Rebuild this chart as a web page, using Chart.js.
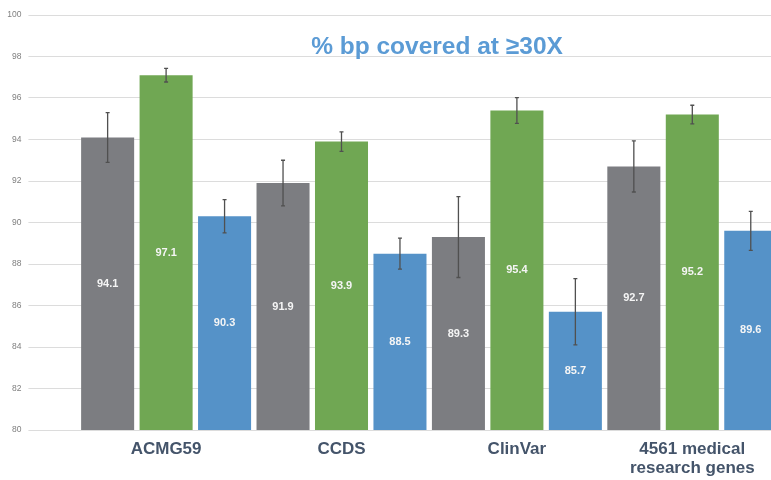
<!DOCTYPE html>
<html>
<head>
<meta charset="utf-8">
<script src="https://cdn.jsdelivr.net/npm/chart.js@4.4.1/dist/chart.umd.min.js"></script>
<style>
  html, body { margin: 0; padding: 0; background: #fff; overflow: hidden; }
  #wrap { width: 780px; height: 480px; }
</style>
</head>
<body>
<div id="wrap"><canvas id="chart" width="780" height="480"></canvas></div>
<script>
// categories along the x axis
const categories = ["ACMG59", "CCDS", "ClinVar", ["4561 medical", "research genes"]];

// bar values (% bp covered at >=30X)
const grayValues  = [94.1, 91.9, 89.3, 92.7];
const greenValues = [97.1, 93.9, 95.4, 95.2];
const blueValues  = [90.3, 88.5, 85.7, 89.6];

// error bar half-widths
const grayErrors  = [1.2, 1.1, 1.95, 1.23];
const greenErrors = [0.33, 0.47, 0.62, 0.45];
const blueErrors  = [0.8, 0.75, 1.6, 0.94];

const yTicks = [80, 82, 84, 86, 88, 90, 92, 94, 96, 98, 100];

const titleText = "% bp covered at \u226530X";

// error bars, value labels and the title
const overlay = {
  id: "overlay",
  afterDraw(chart) {
    const ctx = chart.ctx;
    const y = chart.scales.y;
    chart.data.datasets.forEach((ds, i) => {
      const meta = chart.getDatasetMeta(i);
      meta.data.forEach((bar, j) => {
        const v = ds.data[j];
        const e = ds.errors[j];
        const mid = (y.getPixelForValue(v) + y.bottom) / 2;

        ctx.save();
        ctx.fillStyle = "#f5f5f5";
        ctx.font = "bold 11px 'Liberation Sans', Arial, sans-serif";
        ctx.textAlign = "center";
        ctx.textBaseline = "middle";
        ctx.fillText(v.toFixed(1), bar.x, mid);

        const top = y.getPixelForValue(v + e);
        const bot = y.getPixelForValue(v - e);
        ctx.strokeStyle = "#505050";
        ctx.lineWidth = 1.3;
        ctx.beginPath();
        ctx.moveTo(bar.x, top); ctx.lineTo(bar.x, bot);
        ctx.moveTo(bar.x - 2, top); ctx.lineTo(bar.x + 2, top);
        ctx.moveTo(bar.x - 2, bot); ctx.lineTo(bar.x + 2, bot);
        ctx.stroke();
        ctx.restore();
      });
    });

    ctx.save();
    ctx.fillStyle = "#5b9bd5";
    ctx.font = "bold 24.5px 'Liberation Sans', Arial, sans-serif";
    ctx.textAlign = "center";
    ctx.textBaseline = "alphabetic";
    ctx.fillText(titleText, 437, 54);
    ctx.restore();
  }
};

new Chart(document.getElementById("chart"), {
  type: "bar",
  data: {
    labels: categories,
    datasets: [
      { label: "Gray", data: grayValues, errors: grayErrors, backgroundColor: "#7c7d81" },
      { label: "Green", data: greenValues, errors: greenErrors, backgroundColor: "#70a753" },
      { label: "Blue", data: blueValues, errors: blueErrors, backgroundColor: "#5592c8" }
    ]
  },
  options: {
    responsive: false,
    animation: false,
    layout: { padding: { top: 15, left: 0, right: 0, bottom: 0 } },
    datasets: { bar: { categoryPercentage: 1.0, barPercentage: 0.907 } },
    plugins: {
      legend: { display: false },
      tooltip: { enabled: false },
      title: { display: false }
    },
    scales: {
      x: {
        grid: { display: false, drawTicks: false },
        border: { display: false },
        ticks: {
          color: "#44546a",
          padding: 10,
          font: { family: "'Liberation Sans', Arial, sans-serif", size: 17, weight: "bold", lineHeight: 1.1 }
        },
        afterFit: s => { s.height = 50; }
      },
      y: {
        min: 80,
        max: 100,
        grid: { color: "#dcdcdc", lineWidth: 1, tickLength: 50, tickColor: "#dcdcdc" },
        border: { display: false },
        afterBuildTicks: s => { s.ticks = yTicks.map(v => ({ value: v })); },
        ticks: {
          color: "#7f7f7f",
          padding: 7,
          font: { family: "'Liberation Sans', Arial, sans-serif", size: 8.5 }
        },
        afterFit: s => { s.width = 78.4; }
      }
    }
  },
  plugins: [overlay]
});
</script>
</body>
</html>
